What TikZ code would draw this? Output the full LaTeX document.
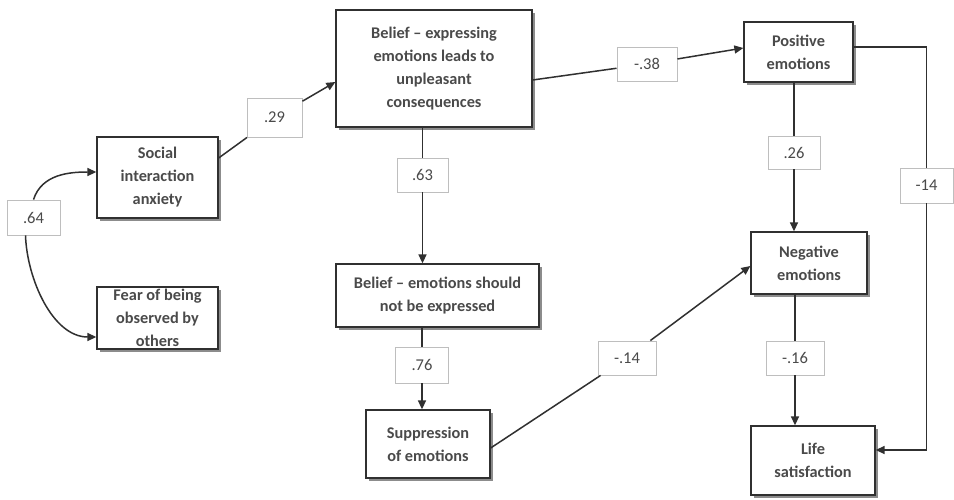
\documentclass[tikz,border=0pt]{standalone}
\usepackage{fontspec}
\setmainfont{Carlito}
\usetikzlibrary{arrows.meta,shadows,calc}
\definecolor{ink}{HTML}{303030}
\definecolor{txt}{HTML}{4A4A4A}
\definecolor{lblline}{HTML}{BEBEBE}
\begin{document}
\begin{tikzpicture}[x=1pt,y=-1pt,
  var/.style={draw=ink, line width=1.3pt, fill=white, align=center, text=txt,
    font=\bfseries\fontsize{16.3}{23}\selectfont, inner sep=0pt,
    drop shadow={shadow xshift=3pt, shadow yshift=-3pt, fill=black!45, opacity=1}},
  coef/.style={draw=lblline, line width=0.9pt, fill=white, text=txt,
    font=\fontsize{16.5}{18}\selectfont, inner sep=0pt},
  link/.style={draw=ink, line width=1.5pt},
  arr/.style={link, -{Triangle[length=9pt,width=8pt]}}]

\useasboundingbox[fill=white] (0,0) rectangle (954,499);

% variables
\node[var, minimum width=121, minimum height=81] (soc) at (157.5,177.5) {Social\\interaction\\anxiety};
\node[var, minimum width=121, minimum height=62] (fear) at (157.5,318) {Fear of being\\observed by\\others};
\node[var, minimum width=196, minimum height=117] (b1) at (434,68.5) {Belief – expressing\\emotions leads to\\unpleasant\\consequences};
\node[var, minimum width=203, minimum height=63] (b2) at (437.5,295.5) {Belief – emotions should\\not be expressed};
\node[var, minimum width=124, minimum height=68] (sup) at (428,444) {Suppression\\of emotions};
\node[var, minimum width=109, minimum height=60] (pos) at (798.5,52) {Positive\\emotions};
\node[var, minimum width=116, minimum height=62] (neg) at (809,263) {Negative\\emotions};
\node[var, minimum width=124, minimum height=69] (life) at (813,460.5) {Life\\satisfaction};

% path coefficients
\node[coef, minimum width=53, minimum height=35] (l64) at (33.5,217.5) {.64};
\node[coef, minimum width=55, minimum height=39] (l29) at (274.5,117.5) {.29};
\node[coef, minimum width=60, minimum height=34] (l38) at (647,64) {-.38};
\node[coef, minimum width=51, minimum height=34] (l63) at (422.5,175) {.63};
\node[coef, minimum width=53, minimum height=36] (l76) at (422,365) {.76};
\node[coef, minimum width=58, minimum height=34] (l14a) at (627,358) {-.14};
\node[coef, minimum width=52, minimum height=33] (l26) at (794,152.5) {.26};
\node[coef, minimum width=53, minimum height=35] (l14b) at (926.5,185.5) {-14};
\node[coef, minimum width=58, minimum height=34] (l16) at (795,358) {-.16};

% correlation between the two anxiety measures
\draw[arr] (l64.north) to[out=72,in=180] ([yshift=5.5pt]soc.west);
\draw[arr] ([xshift=-8pt]l64.south) to[out=-88,in=180,looseness=0.9] ([yshift=-19pt]fear.west);

% social interaction anxiety -> belief (consequences)
\draw[link] ([yshift=19.5pt]soc.east) -- (l29);
\draw[arr] (l29) -- ([yshift=-13.5pt]b1.west);

% belief (consequences) -> positive emotions
\draw[link] ([yshift=-11.5pt]b1.east) -- (l38);
\draw[arr] (l38) -- ([yshift=4pt]pos.west);

% belief (consequences) -> belief (not expressed) -> suppression
\draw[link] (b1.south -| l63) -- (l63);
\draw[arr] (l63) -- (l63 |- b2.north);
\draw[link] (b2.south -| l76) -- (l76);
\draw[arr] (l76) -- (l76 |- sup.north);

% suppression -> negative emotions
\draw[link] ([yshift=-4pt]sup.east) -- (l14a);
\draw[arr] (l14a) -- ([yshift=-3pt]neg.west);

% positive -> negative -> life satisfaction
\draw[link] (pos.south -| l26) -- (l26);
\draw[arr] (l26) -- (l26 |- neg.north);
\draw[link] (neg.south -| l16) -- (l16);
\draw[arr] (l16) -- (l16 |- life.north);

% positive emotions -> life satisfaction
\draw[link] ([yshift=5pt]pos.east) -| (l14b);
\draw[arr] (l14b) |- ([yshift=10.5pt]life.east);
\end{tikzpicture}
\end{document}
